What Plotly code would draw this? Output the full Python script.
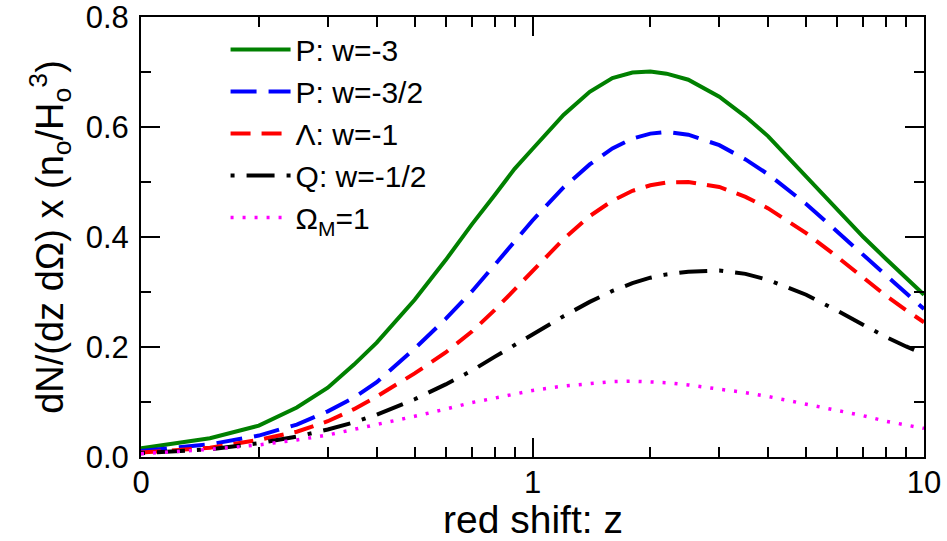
import plotly.graph_objects as go

z = [0.1, 0.15, 0.2, 0.25, 0.3, 0.35, 0.4, 0.5, 0.6, 0.7, 0.8, 0.9, 1.0, 1.2, 1.4, 1.6,
     1.8, 2.0, 2.2, 2.5, 3.0, 3.5, 4.0, 5.0, 6.0, 7.0, 8.0, 9.0, 10.0]

p_w3 = [0.016, 0.034, 0.057, 0.090, 0.126, 0.168, 0.208, 0.286, 0.358, 0.423, 0.476, 0.524,
        0.560, 0.622, 0.664, 0.689, 0.699, 0.701, 0.697, 0.686, 0.655, 0.619, 0.583, 0.510,
        0.450, 0.400, 0.360, 0.325, 0.295]
p_w32 = [0.011, 0.023, 0.039, 0.059, 0.083, 0.108, 0.136, 0.197, 0.251, 0.301, 0.349, 0.392,
         0.430, 0.490, 0.532, 0.561, 0.579, 0.588, 0.591, 0.586, 0.567, 0.541, 0.514, 0.460,
         0.410, 0.367, 0.331, 0.299, 0.269]
lam_w1 = [0.008, 0.017, 0.031, 0.046, 0.065, 0.087, 0.110, 0.152, 0.190, 0.228, 0.267, 0.305,
          0.339, 0.396, 0.438, 0.466, 0.484, 0.494, 0.499, 0.500, 0.491, 0.473, 0.452, 0.407,
          0.364, 0.325, 0.293, 0.267, 0.245]
q_w12 = [0.007, 0.014, 0.025, 0.037, 0.050, 0.063, 0.077, 0.105, 0.132, 0.157, 0.182, 0.204,
         0.224, 0.256, 0.282, 0.302, 0.316, 0.326, 0.332, 0.337, 0.339, 0.333, 0.322, 0.295,
         0.266, 0.240, 0.218, 0.201, 0.187]
om1 = [0.006, 0.014, 0.022, 0.031, 0.040, 0.050, 0.058, 0.074, 0.087, 0.099, 0.107, 0.115,
       0.121, 0.129, 0.134, 0.137, 0.138, 0.137, 0.135, 0.131, 0.124, 0.117, 0.110, 0.096,
       0.084, 0.075, 0.065, 0.058, 0.052]

names = ["P: w=-3", "P: w=-3/2", "\u039b: w=-1", "Q: w=-1/2", "\u03a9<sub>M</sub>=1"]
colors = ["#008000", "#0000ff", "#ff0000", "#000000", "#ff00ff"]
dashes = ["solid", "26px,12px", "20px,11px", "4px,12px,28px,12px", "3px,9px"]
widths = [4, 4, 4, 4, 3.5]
series = [p_w3, p_w32, lam_w1, q_w12, om1]

x_tickvals = [0.1, 1, 10]
x_ticktext = ["0", "1", "10"]
x_minor = [0.2, 0.3, 0.4, 0.5, 0.6, 0.7, 0.8, 0.9, 2, 3, 4, 5, 6, 7, 8, 9]
x_title = "red shift: z"
y_title = "dN/(dz d\u03a9) x (n<sub>o</sub>/H<sub>o</sub><sup>3</sup>)"

FONT = "Arial, Liberation Sans, sans-serif"

fig = go.Figure()
for name, ys, c, d, w in zip(names, series, colors, dashes, widths):
    fig.add_trace(go.Scatter(x=z, y=ys, mode="lines", name=name,
                             line=dict(color=c, dash=d, width=w)))

fig.update_layout(
    width=947, height=541,
    margin=dict(l=141, r=23, t=17, b=84),
    paper_bgcolor="white", plot_bgcolor="white",
    font=dict(family=FONT, color="black", size=30),
    showlegend=True,
    legend=dict(x=0.108, y=0.985, xanchor="left", yanchor="top",
                font=dict(size=30), bgcolor="rgba(0,0,0,0)",
                itemwidth=60, tracegroupgap=0),
    annotations=[dict(text=x_title, xref="paper", yref="paper", x=0.5, y=-0.142,
                      xanchor="center", yanchor="middle", showarrow=False,
                      font=dict(size=39, family=FONT, color="black"))],
)
fig.update_xaxes(
    type="log", range=[-1, 1], automargin=False, ticklabeloverflow="allow",
    tickvals=x_tickvals, ticktext=x_ticktext,
    ticks="inside", ticklen=19, tickwidth=1.5, tickcolor="black",
    minor=dict(tickvals=x_minor, ticks="inside", ticklen=10, tickwidth=1.5, tickcolor="black"),
    showline=True, linecolor="black", linewidth=2, mirror="allticks",
    showgrid=False, zeroline=False, ticklabelstandoff=-3,
    tickfont=dict(size=31),
)
fig.update_yaxes(
    range=[0, 0.8], automargin=False, ticklabeloverflow="allow",
    tickvals=[0, 0.2, 0.4, 0.6, 0.8],
    ticktext=["0.0", "0.2", "0.4", "0.6", "0.8"],
    ticks="inside", ticklen=19, tickwidth=1.5, tickcolor="black",
    minor=dict(dtick=0.1, ticks="inside", ticklen=10, tickwidth=1.5, tickcolor="black"),
    showline=True, linecolor="black", linewidth=2, mirror="allticks",
    showgrid=False, zeroline=False, ticklabelstandoff=4,
    tickfont=dict(size=31),
    title=dict(text=y_title, font=dict(size=38), standoff=10),
)

fig.write_html("out.html", config={"displayModeBar": False},
               post_script="document.body.style.margin='0';document.body.style.overflow='hidden';")
